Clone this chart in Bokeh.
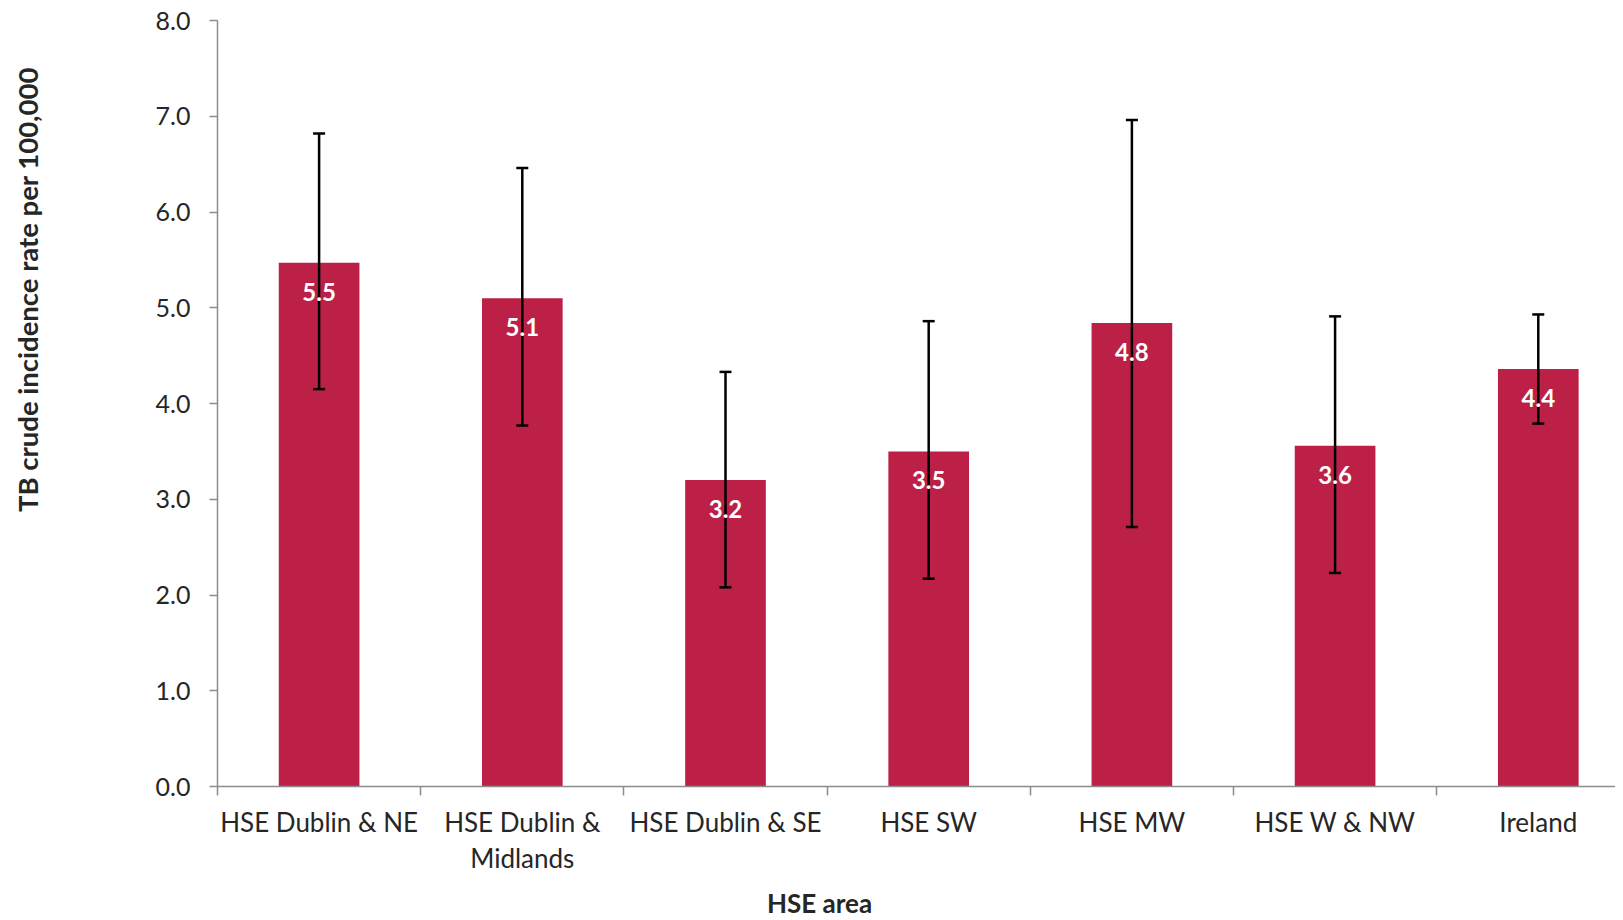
import math
from bokeh.plotting import figure
from bokeh.models import Range1d, FixedTicker, Whisker, TeeHead, ColumnDataSource, Label
from bokeh.layouts import row, column
from bokeh.core.properties import value
from bokeh.embed import file_html
from bokeh.resources import INLINE

categories = ["HSE Dublin & NE", "HSE Dublin &\nMidlands", "HSE Dublin & SE",
              "HSE SW", "HSE MW", "HSE W & NW", "Ireland"]
rates = [5.47, 5.10, 3.20, 3.50, 4.84, 3.56, 4.36]
ci_lower = [4.15, 3.77, 2.08, 2.17, 2.71, 2.23, 3.79]
ci_upper = [6.82, 6.46, 4.33, 4.86, 6.96, 4.91, 4.93]
y_ticks = [0, 1, 2, 3, 4, 5, 6, 7, 8]
y_title = "TB crude incidence rate per 100,000"
x_title = "HSE area"

FONT = "Lato"
BAR = "#BC2047"
TXT = "#262626"
AX = "#8c8c8c"

TOP_H = 877
LEFT_W = 60
BOT_H = 43

xpos = [i + 0.5 for i in range(len(categories))]
labels = [f"{v:.1f}" for v in rates]
src = ColumnDataSource(dict(x=xpos, top=rates, lo=ci_lower, hi=ci_upper, lab=labels))

p = figure(width=1615 - LEFT_W, height=TOP_H, output_backend="svg", toolbar_location=None,
           x_range=Range1d(0, 6.88), y_range=Range1d(0, 8),
           min_border_left=217 - LEFT_W, min_border_right=0, min_border_top=20,
           min_border_bottom=TOP_H - 20 - 767)
p.outline_line_color = None
p.xgrid.visible = False
p.ygrid.visible = False

p.vbar(x="x", top="top", bottom=0, width=0.397, source=src, fill_color=BAR, line_color=None)

w = Whisker(base="x", lower="lo", upper="hi", source=src, dimension="height",
            line_color="black", line_width=2.5, level="annotation",
            lower_head=TeeHead(size=12, line_color="black", line_width=2.5),
            upper_head=TeeHead(size=12, line_color="black", line_width=2.5))
p.add_layout(w)

p.text(x="x", y="top", text="lab", source=src, text_color="white",
       text_font=value(FONT), text_font_style="bold", text_font_size="24px",
       text_align="center", text_baseline="middle", y_offset=29, level="overlay")

# y axis
ya = p.yaxis[0]
ya.ticker = FixedTicker(ticks=y_ticks)
ya.major_label_overrides = {t: f"{t:.1f}" for t in y_ticks}
ya.major_label_text_font = FONT
ya.major_label_text_font_size = "25px"
ya.major_label_text_color = TXT
ya.major_tick_out = 8
ya.major_tick_in = 0
ya.minor_tick_out = 0
ya.minor_tick_in = 0
ya.major_tick_line_color = AX
ya.axis_line_color = AX
ya.axis_line_width = 1.5
ya.major_tick_line_width = 1.5
ya.major_label_standoff = 19

# x axis
xa = p.xaxis[0]
xa.ticker = FixedTicker(ticks=xpos, minor_ticks=list(range(len(categories))))
xa.major_label_overrides = {x: c for x, c in zip(xpos, categories)}
xa.major_label_text_font = FONT
xa.major_label_text_font_size = "26px"
xa.major_label_text_color = TXT
xa.major_label_text_line_height = 1.15
xa.major_tick_out = 0
xa.major_tick_in = 0
xa.minor_tick_out = 9
xa.minor_tick_in = 0
xa.minor_tick_line_color = AX
xa.minor_tick_line_width = 1.5
xa.axis_line_color = AX
xa.axis_line_width = 1.5
xa.major_label_standoff = 10

# left strip holding the y-axis title
t = figure(width=LEFT_W, height=TOP_H, output_backend="svg", toolbar_location=None,
           x_range=Range1d(0, LEFT_W), y_range=Range1d(0, TOP_H),
           x_axis_type=None, y_axis_type=None, min_border=0)
t.outline_line_color = None
t.grid.visible = False
t.add_layout(Label(x=27, y=TOP_H - 308, text=y_title, angle=math.pi / 2,
                   text_font=FONT, text_font_style="bold", text_font_size="27.5px",
                   text_color=TXT, text_align="center", text_baseline="middle"))

# bottom strip holding the x-axis title
b = figure(width=1615, height=BOT_H, output_backend="svg", toolbar_location=None,
           x_range=Range1d(0, 1615), y_range=Range1d(0, BOT_H),
           x_axis_type=None, y_axis_type=None, min_border=0)
b.outline_line_color = None
b.grid.visible = False
b.add_layout(Label(x=819, y=BOT_H - 25.6, text=x_title,
                   text_font=FONT, text_font_style="bold", text_font_size="26px",
                   text_color=TXT, text_align="center", text_baseline="middle"))

layout = column(row(t, p), b)
open("out.html", "w").write(file_html(layout, INLINE))
